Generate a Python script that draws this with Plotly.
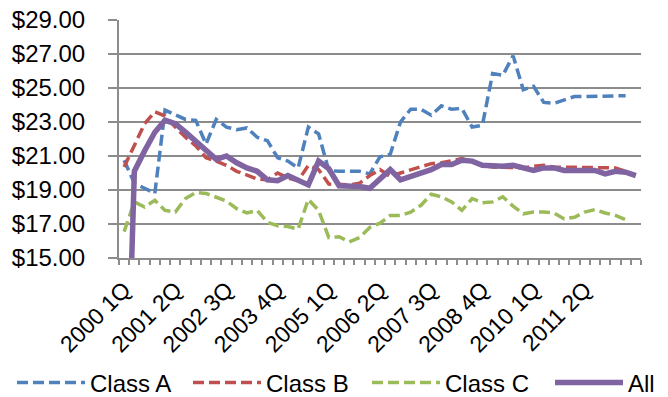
import plotly.graph_objects as go

# Quarterly categories, 2000 1Q .. 2012 3Q
quarters = [f"{2000 + k // 4} {k % 4 + 1}Q" for k in range(51)]
tick_labels = ["2000 1Q", "2001 2Q", "2002 3Q", "2003 4Q", "2005 1Q",
               "2006 2Q", "2007 3Q", "2008 4Q", "2010 1Q", "2011 2Q"]

class_a = [20.75, 19.4, 19.1, 18.8, 23.7, 23.4, 23.15, 23.1, 21.7, 23.15,
           22.7, 22.55, 22.65, 22.1, 21.9, 20.9, 20.7, 20.3, 22.7, 22.3,
           20.15, 20.1, 20.1, 20.1, 19.95, 20.95, 21.1, 23.0, 23.75, 23.75,
           23.4, 23.95, 23.75, 23.8, 22.7, 22.8, 25.85, 25.75, 26.9, 24.9,
           25.1, 24.15, 24.1, 24.3, 24.5, 24.5, 24.5, 24.5, 24.5, 24.55, None]
class_b = [20.35, 21.6, 22.9, 23.6, 23.35, 22.7, 22.1, 21.6, 20.9, 20.7,
           20.45, 20.1, 19.9, 19.65, 19.6, 20.0, 19.7, 19.55, 20.45, 20.2,
           19.35, 19.35, 19.3, 19.4, 19.85, 20.2, 19.8, 20.0, 20.2, 20.4,
           20.55, 20.6, 20.75, 20.85, 20.65, 20.45, 20.35, 20.35, 20.35, 20.3,
           20.4, 20.45, 20.35, 20.35, 20.3, 20.3, 20.3, 20.35, 20.3, 20.1, None]
class_c = [16.55, 18.3, 18.0, 18.4, 17.8, 17.7, 18.5, 18.85, 18.8, 18.6,
           18.35, 17.9, 17.65, 17.8, 17.1, 16.9, 16.85, 16.7, 18.45, 17.8,
           16.2, 16.25, 15.95, 16.2, 16.8, 17.05, 17.5, 17.5, 17.7, 18.1,
           18.75, 18.6, 18.3, 17.8, 18.5, 18.25, 18.3, 18.6, 18.05, 17.6,
           17.7, 17.7, 17.65, 17.3, 17.4, 17.7, 17.85, 17.65, 17.5, 17.25, None]
all_classes = [0, 20.1, 21.3, 22.4, 23.1, 22.9, 22.4, 21.9, 21.4, 20.8,
               21.0, 20.6, 20.3, 20.1, 19.6, 19.55, 19.85, 19.6, 19.3, 20.7,
               20.25, 19.25, 19.25, 19.2, 19.1, 19.6, 20.2, 19.6, 19.8, 20.05,
               20.2, 20.5, 20.5, 20.75, 20.7, 20.45, 20.4, 20.4, 20.45, 20.3,
               20.15, 20.3, 20.3, 20.15, 20.15, 20.2, 20.15, 19.95, 20.1, 20.05, 19.85]

x = list(range(len(quarters)))
FONT = "Liberation Sans, Arial, sans-serif"
GRID = "#8c8c8c"
W, H = 668, 397

series = [
    ("Class A", class_a, "#4F81BD", 3.5, "11px,5px"),
    ("Class B", class_b, "#C0504D", 3.5, "11px,5px"),
    ("Class C", class_c, "#9BBB59", 3.5, "11px,5px"),
    ("All", all_classes, "#8064A2", 5.5, "solid"),
]
# left edge (px) of each legend entry along the bottom row
legend_left_px = [12, 188, 367, 550]
legend_ids = ["legend", "legend2", "legend3", "legend4"]

fig = go.Figure()
for (name, vals, color, width, dash), lid in zip(series, legend_ids):
    fig.add_trace(go.Scatter(
        x=x, y=vals, name=name, mode="lines", legend=lid,
        line=dict(color=color, width=width, dash=dash),
        hovertext=quarters,
    ))

legend_layout = {}
for lid, left in zip(legend_ids, legend_left_px):
    legend_layout[lid] = dict(
        orientation="h", xref="container", yref="container",
        x=left / W, xanchor="left", y=1 - 383 / H, yanchor="middle",
        font=dict(size=24), itemwidth=68, bgcolor="rgba(0,0,0,0)",
    )

fig.update_layout(
    width=W, height=H,
    margin=dict(l=119, r=27, t=20, b=139),
    paper_bgcolor="white", plot_bgcolor="white",
    font=dict(family=FONT, size=23, color="black"),
    showlegend=True,
    **legend_layout,
)
fig.update_xaxes(
    range=[-0.5, len(quarters) - 0.5], automargin=False,
    tickvals=[quarters.index(t) for t in tick_labels], ticktext=tick_labels,
    tickangle=-45, ticks="", showgrid=False, zeroline=False,
    showline=True, linecolor=GRID, linewidth=2, ticklabelstandoff=7,
    minor=dict(ticks="outside", ticklen=5, tickcolor=GRID, tickwidth=1.5,
               tick0=-0.5, dtick=1, showgrid=False),
    tickfont=dict(size=23),
)
fig.update_yaxes(
    range=[15, 29], dtick=2, tick0=15, tickprefix="$", tickformat=".2f",
    automargin=False,
    ticks="outside", ticklen=9, tickcolor=GRID, tickwidth=1.5,
    showgrid=True, gridcolor=GRID, gridwidth=1.5, zeroline=False,
    showline=True, linecolor=GRID, linewidth=2,
    ticklabelstandoff=18, tickfont=dict(size=24),
)

fig.write_html("out.html")
